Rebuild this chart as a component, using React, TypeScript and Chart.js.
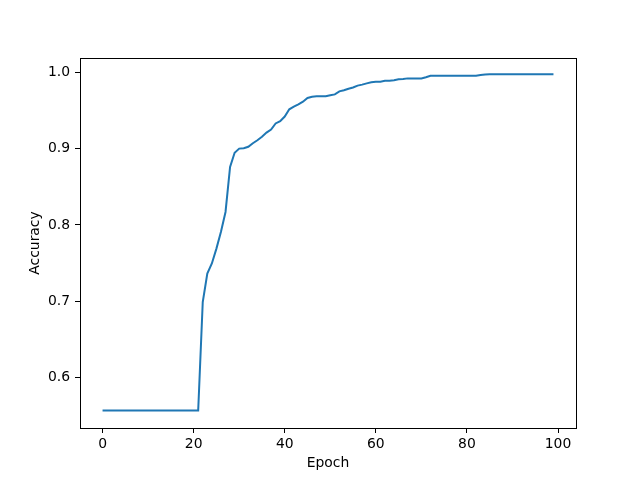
import React, { useEffect, useRef } from "react";
import { Chart, registerables } from "chart.js";

Chart.register(...registerables);

const epochs: number[] = Array.from({ length: 100 }, (_, i) => i);

const accuracy: number[] = [
  // 0-21 flat
  0.557, 0.557, 0.557, 0.557, 0.557, 0.557, 0.557, 0.557, 0.557, 0.557,
  0.557, 0.557, 0.557, 0.557, 0.557, 0.557, 0.557, 0.557, 0.557, 0.557,
  0.557, 0.557,
  // 22-29
  0.699, 0.7364, 0.7495, 0.769, 0.791, 0.817, 0.876, 0.8946,
  // 30-39
  0.9, 0.9005, 0.9024, 0.907, 0.911, 0.9155, 0.921, 0.925, 0.933, 0.936,
  // 40-49
  0.942, 0.9515, 0.955, 0.958, 0.9615, 0.9663, 0.968, 0.9685, 0.9685, 0.9685,
  // 50-59
  0.97, 0.971, 0.975, 0.9764, 0.9785, 0.98, 0.9825, 0.9838, 0.9855, 0.987,
  // 60-69
  0.9875, 0.9877, 0.989, 0.989, 0.9895, 0.9908, 0.9912, 0.992, 0.992, 0.992,
  // 70-79
  0.992, 0.9935, 0.9955, 0.9955, 0.9955, 0.9955, 0.9955, 0.9955, 0.9955, 0.9955,
  // 80-89
  0.9955, 0.9955, 0.9955, 0.9965, 0.997, 0.9975, 0.9975, 0.9975, 0.9975, 0.9975,
  // 90-99
  0.9975, 0.9975, 0.9975, 0.9975, 0.9975, 0.9975, 0.9975, 0.9975, 0.9975, 0.9975,
];

const xTicks: number[] = [0, 20, 40, 60, 80, 100];
const yTicks: number[] = [0.6, 0.7, 0.8, 0.9, 1.0];

const xLabel = "Epoch";
const yLabel = "Accuracy";

const FONT = "'DejaVu Sans', sans-serif";
const FS = 13.9;

const frame = {
  id: "frame",
  afterDraw(chart: any) {
    const { ctx, chartArea } = chart;
    ctx.save();
    ctx.strokeStyle = "#000";
    ctx.lineWidth = 1;
    ctx.strokeRect(
      Math.round(chartArea.left) + 0.5,
      Math.round(chartArea.top) + 0.5,
      Math.round(chartArea.right - chartArea.left),
      Math.round(chartArea.bottom - chartArea.top)
    );
    ctx.restore();
  },
};

export default function App() {
  const ref = useRef<HTMLCanvasElement>(null);
  useEffect(() => {
    if (!ref.current) return;
    const chart = new Chart(ref.current, {
      type: "line",
      data: {
        datasets: [
          {
            data: epochs.map((e, i) => ({ x: e, y: accuracy[i] })),
            borderColor: "#1f77b4",
            backgroundColor: "#1f77b4",
            borderWidth: 2,
            pointRadius: 0,
            tension: 0,
            fill: false,
          },
        ],
      },
      options: {
        animation: false,
        responsive: false,
        devicePixelRatio: 1,
        layout: { padding: { left: 0, top: 58, right: 64, bottom: 0 } },
        plugins: { legend: { display: false }, tooltip: { enabled: false } },
        scales: {
          x: {
            type: "linear",
            min: -4.95,
            max: 103.95,
            afterFit(scale: any) {
              scale.height = 52;
            },
            afterBuildTicks(scale: any) {
              scale.ticks = xTicks.map((v) => ({ value: v }));
            },
            grid: {
              display: true,
              drawOnChartArea: false,
              drawTicks: true,
              tickLength: 5,
              tickColor: "#000",
              color: "#000",
            },
            border: { display: true, color: "#000", width: 1 },
            ticks: {
              color: "#000",
              font: { family: FONT, size: FS },
              padding: 3,
              maxRotation: 0,
              callback: (v: any) => String(v),
            },
            title: {
              display: true,
              text: xLabel,
              color: "#000",
              font: { family: FONT, size: FS },
              padding: { top: 0, bottom: 8 },
            },
          },
          y: {
            type: "linear",
            min: 0.534,
            max: 1.0187,
            afterFit(scale: any) {
              scale.width = 80;
            },
            afterBuildTicks(scale: any) {
              scale.ticks = yTicks.map((v) => ({ value: v }));
            },
            grid: {
              display: true,
              drawOnChartArea: false,
              drawTicks: true,
              tickLength: 5,
              tickColor: "#000",
              color: "#000",
            },
            border: { display: true, color: "#000", width: 1 },
            ticks: {
              color: "#000",
              font: { family: FONT, size: FS },
              padding: 5,
              callback: (v: any) => Number(v).toFixed(1),
            },
            title: {
              display: true,
              text: yLabel,
              color: "#000",
              font: { family: FONT, size: FS },
              padding: { top: 27, bottom: 0 },
            },
          },
        },
      },
      plugins: [frame],
    } as any);
    return () => chart.destroy();
  }, []);
  return (
    <div style={{ position: "absolute", left: 0, top: 0, width: 640, height: 480, background: "#fff" }}>
      <canvas ref={ref} width={640} height={480} style={{ display: "block", width: 640, height: 480 }} />
    </div>
  );
}
